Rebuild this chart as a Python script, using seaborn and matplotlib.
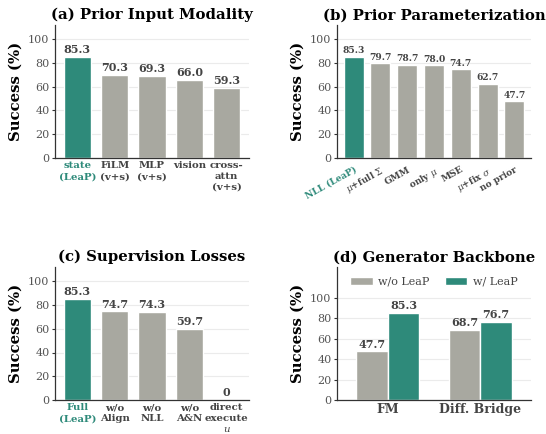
import matplotlib
matplotlib.use("Agg")
import matplotlib.pyplot as plt
import seaborn as sns
import pandas as pd

sns.set_theme(style="white")
plt.rcParams["font.family"] = ["DejaVu Serif"]
plt.rcParams["mathtext.fontset"] = "dejavuserif"

TEAL = "#2E8A7A"
GRAY = "#A8A8A0"
TXT = "#444444"

# (a) prior input modality
mod_labels = ["state\n(LeaP)", "FiLM\n(v+s)", "MLP\n(v+s)", "vision", "cross-\nattn\n(v+s)"]
mod_values = [85.3, 70.3, 69.3, 66.0, 59.3]

# (b) prior parameterization
par_labels = ["NLL (LeaP)", r"$\mu$+full $\Sigma$", "GMM", r"only $\mu$", "MSE",
              r"$\mu$+fix $\sigma$", "no prior"]
par_values = [85.3, 79.7, 78.7, 78.0, 74.7, 62.7, 47.7]

# (c) supervision losses
loss_labels = ["Full\n(LeaP)", "w/o\nAlign", "w/o\nNLL", "w/o\nA&N", "direct\nexecute\n$u$"]
loss_values = [85.3, 74.7, 74.3, 59.7, 0]

# (d) generator backbone
backbones = ["FM", "Diff. Bridge"]
without_leap = [47.7, 68.7]
with_leap = [85.3, 76.7]
series_names = ["w/o LeaP", "w/ LeaP"]

fig = plt.figure(figsize=(5.46, 4.34), dpi=100)
W, H = 546, 434


def add_ax(l, t, r, b):
    return fig.add_axes([l / W, 1 - b / H, (r - l) / W, (b - t) / H])


def style_ax(ax, title, ymax):
    ax.set_ylim(0, ymax)
    ax.set_yticks([0, 20, 40, 60, 80, 100])
    ax.yaxis.grid(True, color="#EBEBEB", linewidth=0.8)
    ax.set_axisbelow(True)
    for s in ["top", "right"]:
        ax.spines[s].set_visible(False)
    for s in ["left", "bottom"]:
        ax.spines[s].set_color("#333333")
        ax.spines[s].set_linewidth(0.9)
    ax.tick_params(axis="y", labelsize=8, labelcolor="#555555", length=2.5,
                   width=0.8, color="#333333", pad=1.5, left=True)
    ax.tick_params(axis="x", length=0, pad=2.5)
    ax.set_ylabel("Success (%)", fontsize=10.7, fontweight="bold", color="black", labelpad=4)
    ax.set_xlabel("")
    ax.set_title(title, fontsize=10.7, fontweight="bold", pad=4, color="black")


def single_panel(ax, labels, values, title, width, fs_val, fs_tick, rot=0):
    df = pd.DataFrame({"cat": labels, "val": values})
    colors = [TEAL] + [GRAY] * (len(labels) - 1)
    sns.barplot(data=df, x="cat", y="val", hue="cat", palette=colors, legend=False,
                width=width, ax=ax, saturation=1)
    for p, v in zip(ax.patches, values):
        ax.text(p.get_x() + p.get_width() / 2, v + 1.5, "0" if v == 0 else f"{v:.1f}",
                ha="center", va="bottom", fontsize=fs_val, fontweight="bold", color=TXT)
    style_ax(ax, title, 112)
    ax.set_xticks(range(len(labels)))
    if rot:
        ax.set_xticklabels(labels, rotation=rot, ha="right", rotation_mode="anchor",
                           fontsize=fs_tick, fontweight="bold", color=TXT)
    else:
        ax.set_xticklabels(labels, fontsize=fs_tick, fontweight="bold", color=TXT,
                           linespacing=1.25)
    ax.get_xticklabels()[0].set_color(TEAL)


ax_a = add_ax(55, 25, 249, 158)
single_panel(ax_a, mod_labels, mod_values, "(a) Prior Input Modality", 0.73, 8, 7.3)
ax_a.set_xlim(-0.6, 4.6)

ax_b = add_ax(337, 25, 531, 158)
single_panel(ax_b, par_labels, par_values, "(b) Prior Parameterization", 0.75, 6.6, 6.5,
             rot=29)
ax_b.set_xlim(-0.62, 6.62)
ax_b.tick_params(axis="x", pad=5)

ax_c = add_ax(55, 267, 249, 400)
single_panel(ax_c, loss_labels, loss_values, "(c) Supervision Losses", 0.73, 8, 7.3)
ax_c.set_xlim(-0.6, 4.6)

# (d) grouped bars
ax_d = add_ax(337, 267, 531, 400)
df_d = pd.DataFrame({
    "backbone": backbones * 2,
    "variant": [series_names[0]] * 2 + [series_names[1]] * 2,
    "val": without_leap + with_leap,
})
sns.barplot(data=df_d, x="backbone", y="val", hue="variant", palette=[GRAY, TEAL],
            width=0.68, gap=0, ax=ax_d, saturation=1)
for p in ax_d.patches[:4]:
    h = p.get_height()
    ax_d.text(p.get_x() + p.get_width() / 2, h + 1.5, f"{h:.1f}", ha="center", va="bottom",
              fontsize=8, fontweight="bold", color=TXT)
style_ax(ax_d, "(d) Generator Backbone", 130)
ax_d.set_xlim(-0.55, 1.55)
ax_d.set_xticks(range(len(backbones)))
ax_d.set_xticklabels(backbones, fontsize=9, fontweight="bold", color=TXT)
ax_d.legend(loc="upper center", ncol=2, frameon=False, fontsize=8, handlelength=2.0,
            handleheight=0.65, handletextpad=0.5, columnspacing=1.4,
            bbox_to_anchor=(0.5, 1.0), labelcolor=TXT)

fig.savefig("out.png", dpi=100)
